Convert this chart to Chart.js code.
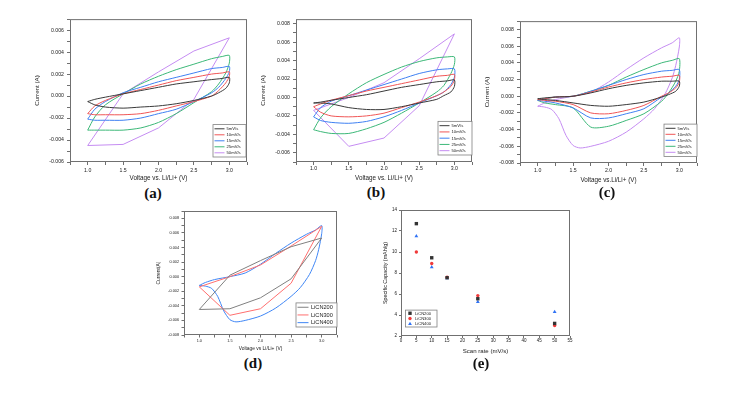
<!DOCTYPE html>
<html>
<head>
<meta charset="utf-8">
<script src="https://cdn.jsdelivr.net/npm/chart.js"></script>
<style>
  body { margin: 0; background: #fff; }
  #fig { position: relative; width: 749px; height: 397px; overflow: hidden; background: #fff; }
  #fig canvas { position: absolute; }
  .tag { position: absolute; transform: translate(-50%, -50%); font: bold 15px "Liberation Serif", "Times New Roman", serif; color: #111; }
</style>
</head>
<body>
<div id="fig">
  <canvas id="chartA"></canvas>
  <canvas id="chartB"></canvas>
  <canvas id="chartC"></canvas>
  <canvas id="chartD"></canvas>
  <canvas id="chartE"></canvas>
  <div class="tag" style="left:153px;top:193px">(a)</div>
  <div class="tag" style="left:376px;top:192px">(b)</div>
  <div class="tag" style="left:607px;top:192px">(c)</div>
  <div class="tag" style="left:253px;top:363px">(d)</div>
  <div class="tag" style="left:481px;top:363px">(e)</div>
</div>
<script>
  // voltage sweep used by the smooth CV loops (forward then back)
  const sweepV = [1.0, 1.1, 1.25, 1.5, 1.75, 2.0, 2.25, 2.5, 2.75, 2.9, 3.0,
                  3.0, 2.95, 2.85, 2.75, 2.5, 2.25, 2.0, 1.75, 1.5, 1.25, 1.1, 1.0];
  // coarse sweep (0.5 V steps) of the 50 mV/s runs in (a) and (b)
  const coarseV = [1.0, 1.5, 2.0, 2.5, 3.0, 2.5, 2.0, 1.5, 1.0];
  // finer sweep of the 50 mV/s run in (c)
  const fineV = [1.0, 1.1, 1.25, 1.5, 1.75, 2.0, 2.25, 2.5, 2.75, 2.9, 3.0,
                 3.0, 2.95, 2.9, 2.8, 2.65, 2.5, 2.25, 2.0, 1.75, 1.6, 1.5, 1.4, 1.3, 1.2, 1.1, 1.0];

  const rateLabels = ['5mV/s', '10mV/s', '15mV/s', '25mV/s', '50mV/s'];
  const sampleLabels = ['LiCN200', 'LiCN300', 'LiCN400'];

  // (a) LiCN200 currents (A)
  const a5  = [-0.0005,-0.0003,-0.0001,0.0002,0.0005,0.0008,0.0011,0.0013,0.0015,0.0016,0.0017,
               0.0012,0.0007,0.0003,0.0000,-0.0004,-0.0007,-0.0009,-0.0010,-0.0011,-0.0010,-0.0008,-0.0005];
  const a10 = [-0.0016,-0.0009,-0.0004,0.0002,0.0006,0.0010,0.0014,0.0017,0.0020,0.0021,0.0022,
               0.0018,0.0012,0.0005,0.0000,-0.0005,-0.0009,-0.0013,-0.0016,-0.0017,-0.0017,-0.0017,-0.0016];
  const a15 = [-0.0021,-0.0012,-0.0005,0.0003,0.0008,0.0013,0.0017,0.0021,0.0025,0.0026,0.0027,
               0.0022,0.0016,0.0008,0.0003,-0.0005,-0.0012,-0.0016,-0.0020,-0.0022,-0.0022,-0.0022,-0.0021];
  const a25 = [-0.0031,-0.0019,-0.0008,0.0002,0.0011,0.0018,0.0024,0.0029,0.0034,0.0036,0.0037,
               0.0030,0.0021,0.0011,0.0004,-0.0006,-0.0016,-0.0024,-0.0029,-0.0031,-0.0031,-0.0031,-0.0031];
  const a50 = [-0.0045,0.0002,0.0022,0.0041,0.0053,-0.0003,-0.0029,-0.0044,-0.0045];

  // (b) LiCN300
  const b5  = [-0.0006,-0.0005,-0.0003,0.0000,0.0003,0.0007,0.0011,0.0014,0.0017,0.0018,0.0019,
               0.0012,0.0006,0.0002,-0.0002,-0.0006,-0.0010,-0.0013,-0.0013,-0.0011,-0.0007,-0.0006,-0.0006];
  const b10 = [-0.0010,-0.0007,-0.0003,0.0002,0.0007,0.0011,0.0015,0.0019,0.0023,0.0024,0.0025,
               0.0019,0.0012,0.0006,0.0002,-0.0005,-0.0011,-0.0017,-0.0020,-0.0021,-0.0020,-0.0016,-0.0010];
  const b15 = [-0.0021,-0.0011,-0.0004,0.0002,0.0008,0.0014,0.0020,0.0026,0.0030,0.0031,0.0031,
               0.0022,0.0014,0.0006,0.0002,-0.0006,-0.0014,-0.0021,-0.0026,-0.0028,-0.0027,-0.0025,-0.0021];
  const b25 = [-0.0035,-0.0022,-0.0010,0.0004,0.0016,0.0025,0.0033,0.0039,0.0043,0.0044,0.0044,
               0.0036,0.0026,0.0013,0.0006,-0.0006,-0.0017,-0.0027,-0.0034,-0.0039,-0.0039,-0.0037,-0.0035];
  const b50 = [-0.0014,0.0000,0.0016,0.0042,0.0069,-0.0009,-0.0044,-0.0053,-0.0014];

  // (c) LiCN400
  const c5  = [-0.0003,-0.0002,-0.0001,0.0000,0.0004,0.0009,0.0013,0.0016,0.0018,0.0018,0.0018,
               0.0012,0.0006,0.0002,-0.0001,-0.0007,-0.0010,-0.0012,-0.0011,-0.0008,-0.0005,-0.0004,-0.0003];
  const c10 = [-0.0004,-0.0003,-0.0001,0.0000,0.0005,0.0011,0.0016,0.0020,0.0023,0.0024,0.0025,
               0.0017,0.0010,0.0004,0.0000,-0.0011,-0.0017,-0.0021,-0.0020,-0.0010,-0.0006,-0.0005,-0.0004];
  const c15 = [-0.0005,-0.0003,-0.0001,0.0000,0.0006,0.0013,0.0020,0.0026,0.0030,0.0031,0.0032,
               0.0020,0.0012,0.0004,-0.0001,-0.0015,-0.0021,-0.0026,-0.0026,-0.0014,-0.0008,-0.0006,-0.0005];
  const c25 = [-0.0005,-0.0003,-0.0001,0.0000,0.0006,0.0013,0.0023,0.0032,0.0040,0.0043,0.0045,
               0.0030,0.0018,0.0004,-0.0006,-0.0021,-0.0029,-0.0036,-0.0037,-0.0014,-0.0010,-0.0008,-0.0005];
  const c50 = [-0.0012,-0.0008,-0.0004,0.0000,0.0005,0.0017,0.0032,0.0046,0.0058,0.0064,0.0070,
               0.0059,0.0037,0.0022,0.0003,-0.0015,-0.0027,-0.0043,-0.0054,-0.0060,-0.0062,-0.0059,-0.0047,-0.0027,-0.0016,-0.0013,-0.0012];

  // (e) specific capacity vs scan rate
  const scanRates = [5, 10, 15, 25, 50];
  const cap200 = [12.7, 9.45, 7.55, 5.55, 3.2];
  const cap300 = [10.0, 8.9, 7.6, 5.85, 3.0];
  const cap400 = [11.5, 8.55, 7.5, 5.25, 4.3];

  const FONT = '"Liberation Sans", Arial, sans-serif';
  Chart.defaults.font.family = FONT;
  Chart.defaults.color = '#222';
  Chart.defaults.animation = false;

  const PAD = 6;
  const rateColors = ['#3a3a3a', '#f05656', '#3f80f2', '#3cb878', '#c58cf2'];

  // box round the plot area
  const frame = {
    id: 'frame',
    afterDatasetsDraw(chart) {
      const { ctx, chartArea: a } = chart;
      ctx.save();
      ctx.strokeStyle = '#707070';
      ctx.lineWidth = 1;
      ctx.strokeRect(a.left + 0.5, a.top + 0.5, a.right - a.left - 1, a.bottom - a.top - 1);
      ctx.restore();
    }
  };

  // small boxed legend inside the plot area, like the Origin one
  const boxLegend = {
    id: 'boxLegend',
    afterDraw(chart, args, o) {
      const { ctx, chartArea: a } = chart;
      const sets = chart.data.datasets;
      const h = o.rowH * sets.length + 2 * o.pad;
      const x0 = o.side === 'left' ? a.left + o.dx : a.right - o.width - o.dx;
      const y0 = a.bottom - h - o.dy;
      ctx.save();
      ctx.fillStyle = '#fff';
      ctx.fillRect(x0, y0, o.width, h);
      ctx.strokeStyle = '#808080';
      ctx.lineWidth = 0.8;
      ctx.strokeRect(x0, y0, o.width, h);
      ctx.font = o.font + 'px ' + FONT;
      ctx.textBaseline = 'middle';
      sets.forEach((d, i) => {
        const y = y0 + o.pad + o.rowH * (i + 0.5);
        const sx = x0 + 1.5;
        if (o.markers) {
          const cx = sx + o.sample / 2, r = d.pointRadius;
          ctx.fillStyle = d.backgroundColor;
          ctx.beginPath();
          if (d.pointStyle === 'rect') {
            const s = r * Math.SQRT1_2;
            ctx.rect(cx - s, y - s, 2 * s, 2 * s);
          } else if (d.pointStyle === 'triangle') {
            ctx.moveTo(cx, y - r);
            ctx.lineTo(cx + r * 0.87, y + r * 0.5);
            ctx.lineTo(cx - r * 0.87, y + r * 0.5);
            ctx.closePath();
          } else {
            ctx.arc(cx, y, r, 0, Math.PI * 2);
          }
          ctx.fill();
        } else {
          ctx.strokeStyle = d.borderColor;
          ctx.lineWidth = 1;
          ctx.beginPath();
          ctx.moveTo(sx, y);
          ctx.lineTo(sx + o.sample, y);
          ctx.stroke();
        }
        ctx.fillStyle = '#222';
        ctx.fillText(d.label, sx + o.sample + o.gap, y + 0.3);
      });
      ctx.restore();
    }
  };

  const voltLabel = v => {
    const k = Math.round(v * 4);
    return (k % 2 || v < 1 || v > 3) ? '' : v.toFixed(1);
  };
  const ampLabel = v => {
    const k = Math.round(v * 1000);
    return k % 2 ? '' : (k / 1000).toFixed(3);
  };

  function loop(label, V, I, color, tension) {
    return {
      label, data: V.map((x, i) => ({ x, y: I[i] })),
      showLine: true, borderColor: color, backgroundColor: color,
      borderWidth: 1, pointRadius: 0, tension
    };
  }

  function dots(label, Y, color, style, r) {
    return {
      label, data: scanRates.map((x, i) => ({ x, y: Y[i] })),
      pointStyle: style, pointRadius: r, backgroundColor: color, borderColor: color,
      pointBorderWidth: 0, showLine: false
    };
  }

  function axis(o, isY, wAxis) {
    return {
      type: 'linear',
      min: isY ? o.yMin : o.xMin,
      max: isY ? o.yMax : o.xMax,
      ticks: {
        stepSize: isY ? o.yStep : o.xStep,
        autoSkip: false, includeBounds: false, maxRotation: 0, minRotation: 0,
        padding: isY ? o.yPad : o.xPad,
        font: { size: o.tickFont },
        callback: isY ? o.yLabel : o.xLabel
      },
      grid: { drawOnChartArea: false, drawTicks: true, tickLength: o.tickLen, color: '#707070' },
      border: { display: false },
      title: {
        display: true, text: isY ? o.yText : o.xText, padding: 0,
        font: { size: isY ? o.yTitle : o.xTitle, lineHeight: 1.2 }
      },
      afterFit: s => { if (isY) s.width = wAxis; else s.height = wAxis; }
    };
  }

  function panel(id, o, datasets) {
    const cv = document.getElementById(id);
    const f = o.frame;
    const wy = Math.round(o.yGap + o.yTitle * 0.6);
    const hx = Math.round(o.xGap + o.xTitle * 0.6);
    cv.width = f.r - f.l + wy + PAD;
    cv.height = f.b - f.t + PAD + hx;
    cv.style.left = (f.l - wy) + 'px';
    cv.style.top = (f.t - PAD) + 'px';
    return new Chart(cv, {
      type: 'scatter',
      data: { datasets },
      options: {
        responsive: false,
        layout: { padding: { left: 0, top: PAD, right: PAD, bottom: 0 } },
        plugins: { legend: { display: false }, tooltip: { enabled: false }, boxLegend: o.legend },
        scales: { x: axis(o, false, hx), y: axis(o, true, wy) }
      },
      plugins: [frame, boxLegend]
    });
  }

  const cvBase = {
    xMin: 0.75, xMax: 3.25, xStep: 0.25, yStep: 0.001,
    xLabel: voltLabel, yLabel: ampLabel,
    tickFont: 5.2, tickLen: 3, yPad: 3,
    yText: 'Current (A)', xText: 'Voltage vs. Li/Li+ (V)',
    yTitle: 6.2, xTitle: 6.3, yGap: 32
  };
  const rateLegend = { side: 'right', dx: 1, dy: 5, width: 33, rowH: 6, pad: 1.2, font: 4.2, sample: 10, gap: 2 };

  function rateSets(i5, i10, i15, i25, i50, V50, t50) {
    return [
      loop(rateLabels[0], sweepV, i5, rateColors[0], 0.25),
      loop(rateLabels[1], sweepV, i10, rateColors[1], 0.25),
      loop(rateLabels[2], sweepV, i15, rateColors[2], 0.25),
      loop(rateLabels[3], sweepV, i25, rateColors[3], 0.25),
      loop(rateLabels[4], V50, i50, rateColors[4], t50)
    ];
  }

  panel('chartA', Object.assign({}, cvBase, {
    frame: { l: 70, t: 19, r: 247, b: 162 }, yMin: -0.006, yMax: 0.007,
    xGap: 16, xPad: 2, legend: rateLegend
  }), rateSets(a5, a10, a15, a25, a50, coarseV, 0));

  panel('chartB', Object.assign({}, cvBase, {
    frame: { l: 296, t: 19, r: 472, b: 162 }, yMin: -0.007, yMax: 0.0085,
    xGap: 16, xPad: 0.5, legend: Object.assign({}, rateLegend, { dx: 0, dy: 7, rowH: 6.25, width: 34 })
  }), rateSets(b5, b10, b15, b25, b50, coarseV, 0));

  panel('chartC', Object.assign({}, cvBase, {
    frame: { l: 520, t: 21, r: 697, b: 163 }, yMin: -0.008, yMax: 0.009,
    xGap: 17, xPad: 1, xText: 'Voltage vs.Li/Li+ (V)',
    legend: Object.assign({}, rateLegend, { dx: 0, dy: 6.5, width: 33 })
  }), rateSets(c5, c10, c15, c25, c50, fineV, 0.25));

  panel('chartD', Object.assign({}, cvBase, {
    frame: { l: 184, t: 211, r: 337, b: 335 }, yMin: -0.008, yMax: 0.009,
    tickFont: 3.8, tickLen: 2.5, yPad: 2.5, xPad: 1,
    yText: 'Current(A)', xText: 'Voltage vs Li/Li+ (V)', yTitle: 4.9, xTitle: 4.9,
    yGap: 25, xGap: 14,
    legend: { side: 'right', dx: 0, dy: 8, width: 41, rowH: 7.7, pad: 0.5, font: 5.6, sample: 11, gap: 2.5 }
  }), [
    loop(sampleLabels[0], coarseV, a50, '#808080', 0),
    loop(sampleLabels[1], coarseV, b50, '#ff6f6f', 0),
    loop(sampleLabels[2], fineV, c50, '#3f86f5', 0.25)
  ]);

  panel('chartE', {
    frame: { l: 401, t: 210, r: 570, b: 336 },
    xMin: 0, xMax: 55, xStep: 5, yMin: 2, yMax: 14, yStep: 2,
    xLabel: v => String(v), yLabel: v => String(v),
    tickFont: 4.5, tickLen: 2, yPad: 2, xPad: 0,
    yText: 'Specific Capacity (mAh/g)', xText: 'Scan rate (mV/s)', yTitle: 5.4, xTitle: 6.1,
    yGap: 16, xGap: 15,
    legend: { side: 'left', dx: 4.5, dy: 9, width: 31.5, rowH: 5.3, pad: 0.5, font: 4.1, sample: 6, gap: 2, markers: true }
  }, [
    dots(sampleLabels[0], cap200, '#333333', 'rect', 2.4),
    dots(sampleLabels[1], cap300, '#f03a3a', 'circle', 1.7),
    dots(sampleLabels[2], cap400, '#2f72f5', 'triangle', 2.2)
  ]);
</script>
</body>
</html>
